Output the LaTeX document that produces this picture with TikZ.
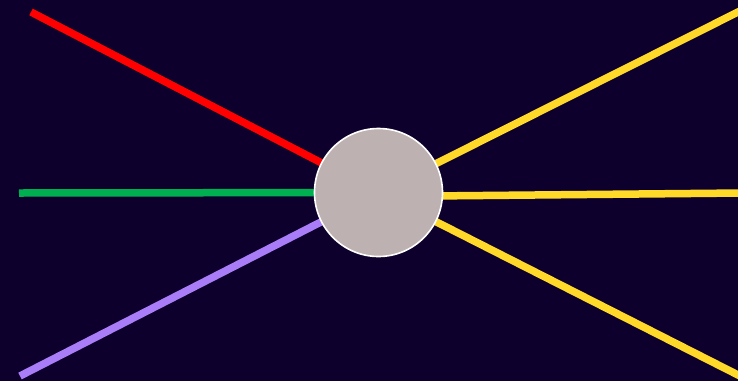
\documentclass[tikz,border=0pt]{standalone}
\definecolor{bg}{HTML}{0E002C}
\definecolor{disc}{HTML}{BDB1B1}
\definecolor{rline}{HTML}{FF0000}
\definecolor{gline}{HTML}{00B050}
\definecolor{pline}{HTML}{A97CF8}
\definecolor{yline}{HTML}{FFD92A}
\begin{document}
\begin{tikzpicture}[x=1pt,y=-1pt,
  ray/.style={line width=7.5pt},
  hub/.style={circle,fill=disc,draw=white,line width=1.6pt,minimum size=128pt,inner sep=0pt}]
\fill[bg] (0,0) rectangle (738,381);
\useasboundingbox (0,0) rectangle (738,381);
\coordinate (r) at (31,12);
\coordinate (g) at (19,193);
\coordinate (p) at (20,376);
\coordinate (y1) at (742,10);
\coordinate (y2) at (742,193);
\coordinate (y3) at (742,377);
\coordinate (ctr) at (378.5,192.5);
\coordinate (ym) at (378.5,196.5);
\draw[ray,rline] (r) -- (ctr);
\draw[ray,gline] (g) -- (ctr);
\draw[ray,pline] (p) -- (ctr);
\draw[ray,yline] (y1) -- (ctr);
\draw[ray,yline] (y2) -- (ym);
\draw[ray,yline] (y3) -- (ctr);
\node[hub] (c) at (ctr) {};
\end{tikzpicture}
\end{document}
